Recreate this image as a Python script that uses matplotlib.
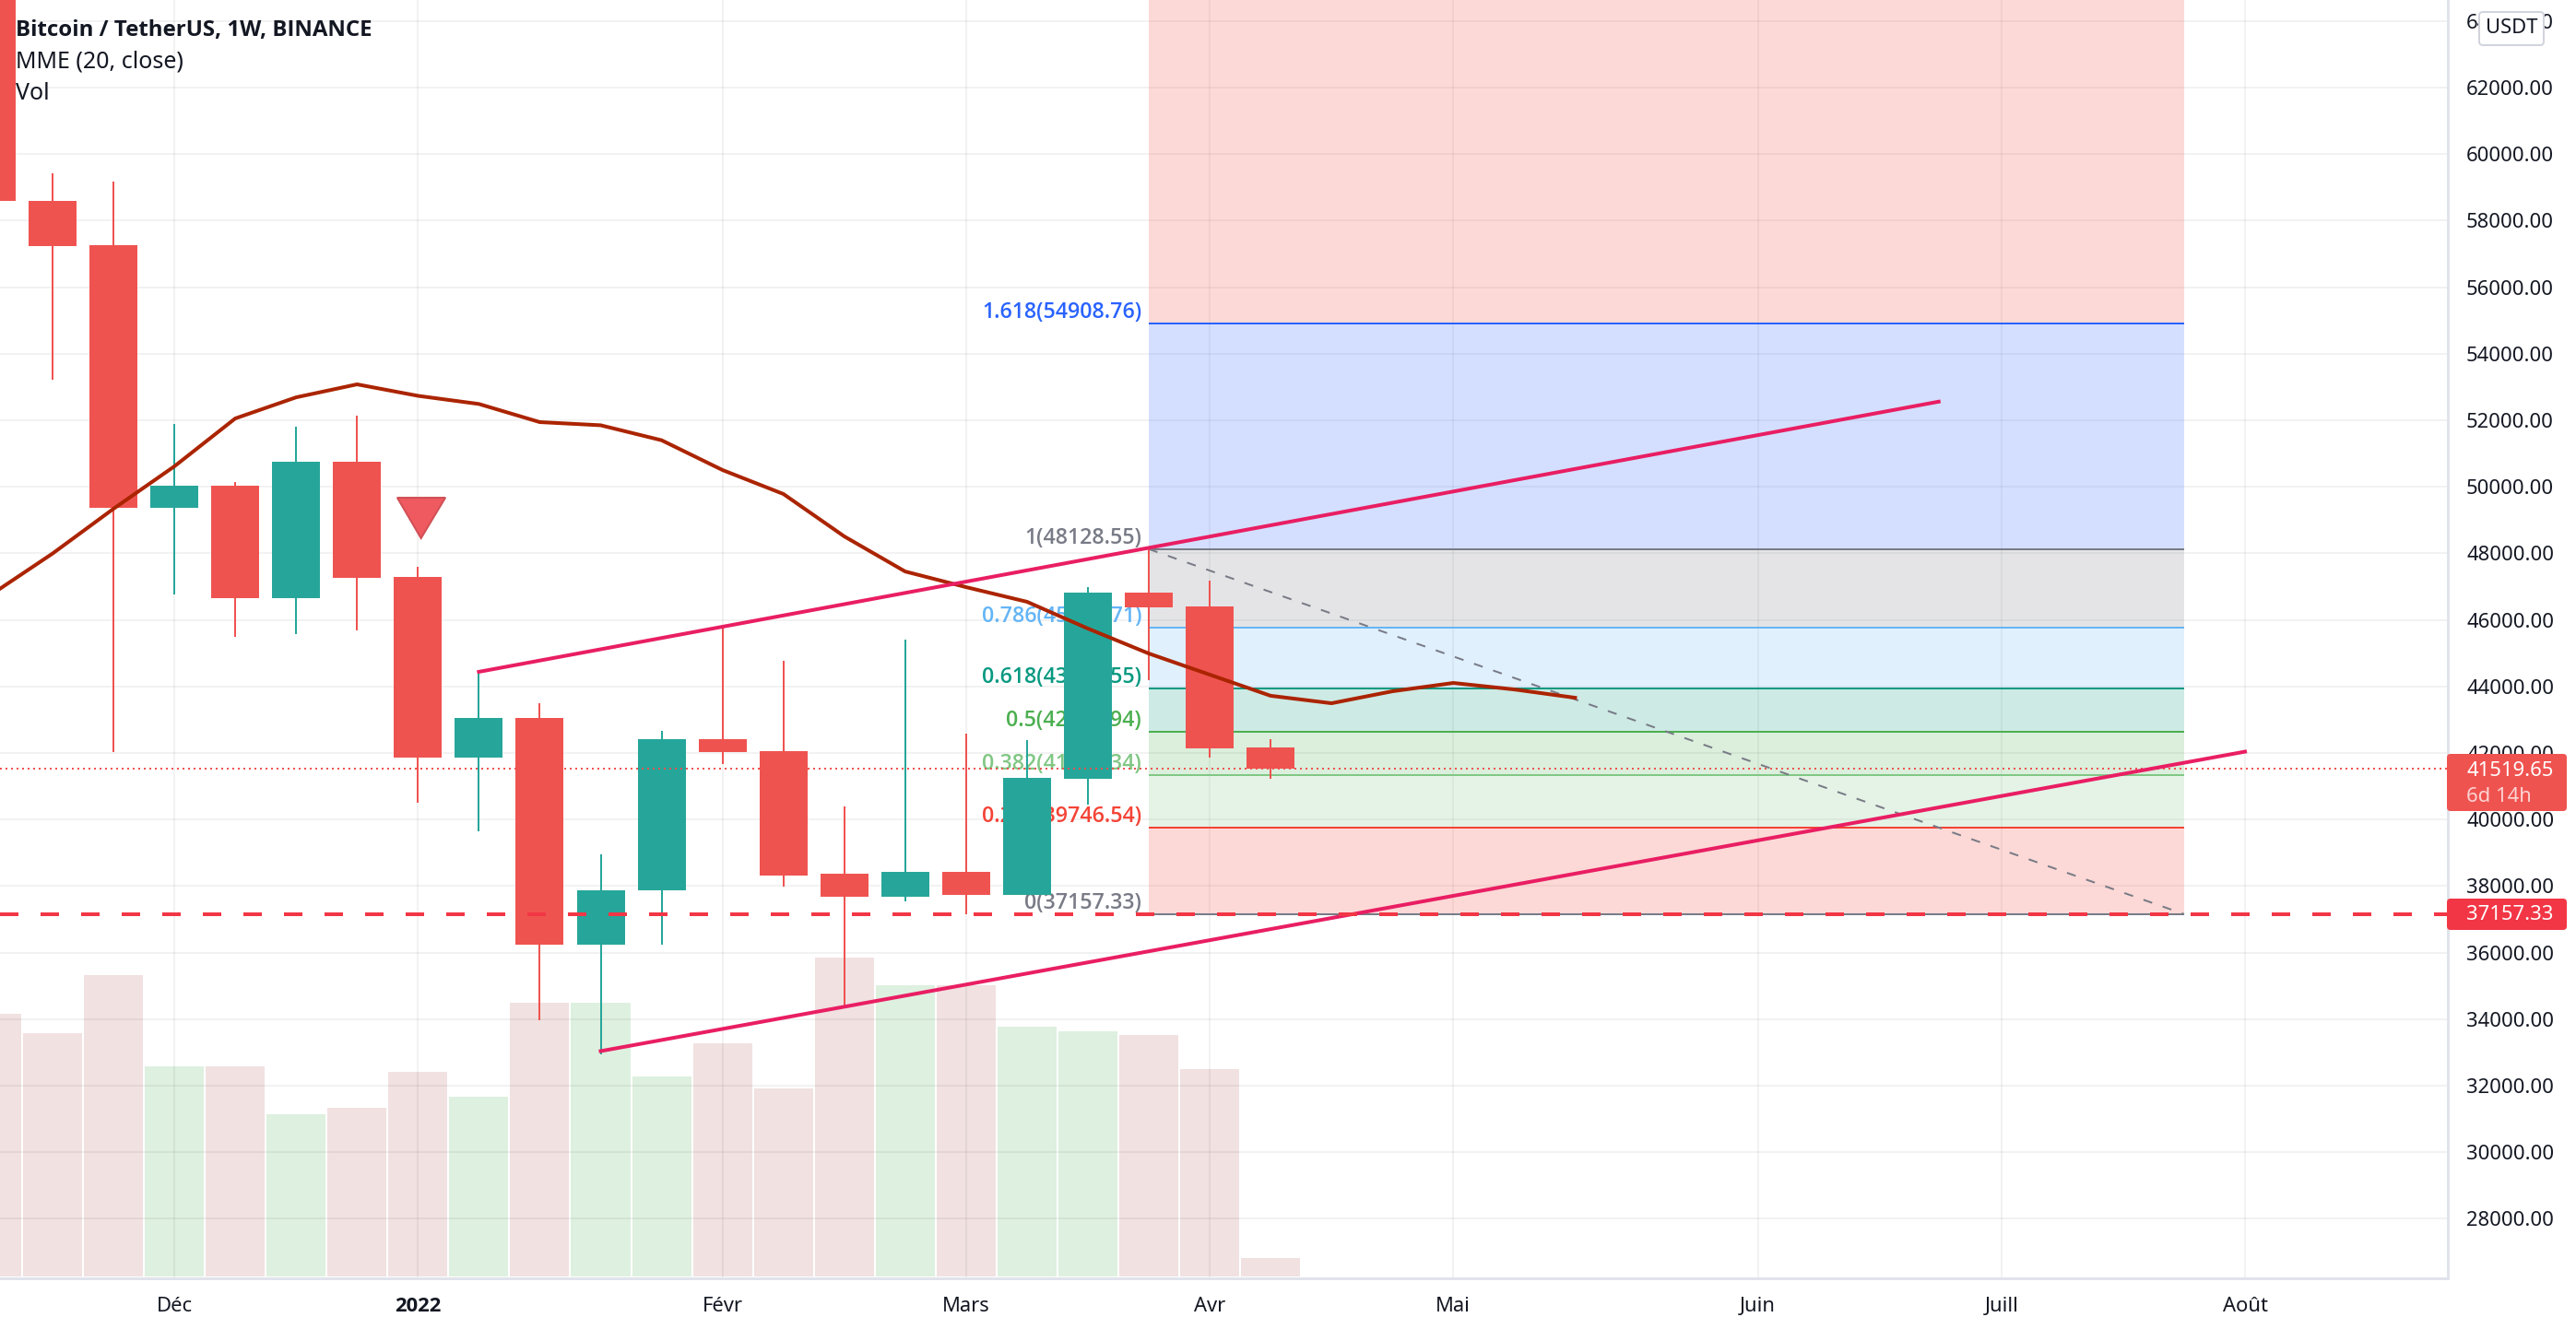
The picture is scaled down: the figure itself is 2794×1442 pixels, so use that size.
import matplotlib
matplotlib.use("Agg")
import matplotlib.pyplot as plt
from matplotlib.patches import FancyBboxPatch

plt.rcParams['font.family'] = ['Noto Sans', 'DejaVu Sans']

W, H = 2794, 1442
INK = '#131722'
UP, DOWN = '#26A69A', '#EF5350'
PX = 0.72  # points per pixel at dpi 100

# ---- data -------------------------------------------------------------
weeks = list(range(-1, 21))
opens = [66000, 58593, 57263, 49370, 50020, 46660, 50760, 47290, 41850, 43060, 36250, 37870,
         42420, 42050, 38370, 37680, 38430, 37740, 41220, 46820, 46400, 42170]
closes = [58593, 57236, 49370, 50020, 46660, 50760, 47260, 41875, 43060, 36250, 37870, 42420,
          42030, 38320, 37680, 38430, 37740, 41250, 46820, 46380, 42150, 41520]
highs = [69000, 59424, 59175, 51900, 50150, 51800, 52140, 47600, 44440, 43500, 38960, 42660,
         45780, 44780, 40400, 45400, 42580, 42390, 46985, 48128, 47180, 42420]
lows = [58593, 53230, 42030, 46765, 45490, 45570, 45680, 40500, 39650, 33980, 32950, 36250,
        41680, 37990, 34380, 37540, 37157, 37740, 40460, 44200, 41870, 41220]
volumes = [285, 264, 327, 228, 228, 176, 183, 222, 195, 297, 297, 217, 253, 204, 346, 316, 316,
           271, 266, 262, 225, 20]

ema_weeks = list(range(-1, 26))
ema_values = [46770, 47995, 49340, 50615, 52055, 52690, 53080, 52735, 52490, 51945, 51850, 51400,
              50505, 49785, 48510, 47455, 46985, 46545, 45740, 44990, 44355, 43720, 43495, 43855,
              44105, 43910, 43660]

upper_trend_x, upper_trend_y = [7, 30.97], [44440, 52560]
lower_trend_x, lower_trend_y = [9, 36.0], [33040, 42040]
support = 37157.33
last_price = 41519.65

fib_x = [18, 35]
fib_prices = [65879.09, 54908.76, 48128.55, 45780.71, 43937.55, 42642.94, 41348.34, 39746.54, 37157.33]
fib_colors = ['#F44336', '#2962FF', '#787B86', '#64B5F6', '#089981', '#4CAF50', '#81C784', '#F44336', '#787B86']
fib_fill_colors = ['#F44336', '#2962FF', '#787B86', '#64B5F6', '#089981', '#4CAF50', '#81C784', '#F44336']
fib_labels = ['', '1.618(54908.76)', '1(48128.55)', '0.786(45780.71)', '0.618(43937.55)',
              '0.5(42642.94)', '0.382(41348.34)', '0.236(39746.54)', '0(37157.33)']

arrow_x = [5.66, 6.45, 6.05]
arrow_y = [49673, 49673, 48454]

month_pos = [2, 6, 11, 15, 19, 23, 28, 32, 36]
month_lab = ['Déc', '2022', 'Févr', 'Mars', 'Avr', 'Mai', 'Juin', 'Juill', 'Août']
price_ticks = list(range(28000, 66000, 2000))

# ---- layout ------------------------------------------------------------
fig = plt.figure(figsize=(W / 100, H / 100), dpi=100, facecolor='white')
rect = [0, (H - 1387) / H, 2655 / W, 1387 / H]
ax_vol = fig.add_axes(rect, zorder=0)
ax = fig.add_axes(rect, zorder=1)
ax.patch.set_visible(False)
xlim = (-0.863, 39.33)
ylim = (26211, 64632)
ax.set_xlim(xlim)
ax.set_ylim(ylim)
ax_vol.set_xlim(xlim)
ax_vol.set_ylim(-2, 1385)
ax_vol.axis('off')

# volume
for w, o, c, v in zip(weeks, opens, closes, volumes):
    ax_vol.bar(w, v, width=0.97, color='#4CAF50' if c > o else '#A03030', alpha=0.18 if c > o else 0.14, lw=0)

# grid + axis
ax.set_axisbelow(True)
ax.grid(True, color='black', alpha=0.05, lw=2 * PX)
ax.set_xticks(month_pos, month_lab)
ax.set_yticks(price_ticks, [f'{p:.2f}' for p in price_ticks])
ax.yaxis.tick_right()
ax.tick_params(axis='y', length=0, pad=20 * PX, labelsize=22 * PX, labelcolor=INK)
ax.tick_params(axis='x', length=0, pad=20 * PX, labelsize=22 * PX, labelcolor=INK)
for lab in ax.get_xticklabels():
    if lab.get_text() == '2022':
        lab.set_family(['Open Sans', 'DejaVu Sans'])
        lab.set_fontweight('bold')
for s in ('top', 'left'):
    ax.spines[s].set_visible(False)
for s in ('right', 'bottom'):
    ax.spines[s].set_color('#E0E3EB')
    ax.spines[s].set_linewidth(3 * PX)

# fibonacci
for i in range(len(fib_fill_colors)):
    ax.fill_between(fib_x, fib_prices[i + 1], fib_prices[i], color=fib_fill_colors[i], alpha=0.2, lw=0, zorder=1)
for p, col, lab in zip(fib_prices, fib_colors, fib_labels):
    if not lab:
        continue
    ax.plot(fib_x, [p, p], color=col, lw=2 * PX, zorder=1.5, solid_capstyle='butt')
    ax.annotate(lab, (fib_x[0], p), xytext=(-8 * PX, 12 * PX), textcoords='offset points',
                ha='right', va='center', color=col, fontsize=23.2 * PX, zorder=1.6,
                fontweight='semibold', family=['Open Sans', 'DejaVu Sans'])
ax.plot(fib_x, [fib_prices[2], fib_prices[-1]], color='#787B86', lw=2 * PX, dashes=(5, 6), zorder=1.7)

# candles
for w, o, c, hi, lo in zip(weeks, opens, closes, highs, lows):
    col = UP if c > o else DOWN
    ax.plot([w, w], [lo, hi], color=col, lw=2 * PX, zorder=3, solid_capstyle='butt')
    ax.bar(w, abs(c - o), bottom=min(o, c), width=52 / 66.05, color=col, lw=0, zorder=3.1)

# price lines and trend lines
ax.axhline(last_price, color=DOWN, lw=2 * PX, dashes=(1, 2), zorder=3.5)
ax.plot(ema_weeks, ema_values, color='#AB2400', lw=4 * PX, zorder=4, solid_joinstyle='round')
ax.plot(upper_trend_x, upper_trend_y, color='#E91E63', lw=4 * PX, zorder=4.2)
ax.plot(lower_trend_x, lower_trend_y, color='#E91E63', lw=4 * PX, zorder=4.2)
ax.axhline(support, color='#F23645', lw=4 * PX, dashes=(5, 6), zorder=4.3, dash_capstyle='butt')
ax.fill(arrow_x, arrow_y, facecolor='#EE5A60', edgecolor='#D05055', lw=2 * PX, zorder=4.4)

# chrome overlay in pixel units
ov = fig.add_axes([0, 0, 1, 1], zorder=5)
ov.set_xlim(0, W)
ov.set_ylim(H, 0)
ov.axis('off')


def tag(x0, y0, x1, y1, fc, ec='none', lw=0):
    ov.add_patch(FancyBboxPatch((x0 + 4, y0 + 4), x1 - x0 - 8, y1 - y0 - 8,
                                boxstyle='round,pad=4,rounding_size=4', fc=fc, ec=ec, lw=lw))


tag(2654, 818, 2784, 880, '#EF5350')
ov.text(2675, 836, f'{last_price:.2f}', color='white', fontsize=22 * PX, va='center')
ov.text(2675, 864, '6d 14h', color='#FBD3D2', fontsize=22 * PX, va='center')
tag(2654, 975, 2784, 1009, '#F23645')
ov.text(2675, 992, f'{support:.2f}', color='white', fontsize=22 * PX, va='center')
tag(2689, 13, 2759, 49, 'white', '#D1D4DC', 2 * PX)
ov.text(2724, 30, 'USDT', color=INK, fontsize=22 * PX, ha='center', va='center')

ov.text(17, 33, 'Bitcoin / TetherUS, 1W, BINANCE', color=INK, fontsize=24 * PX, fontweight='bold',
        family=['Open Sans', 'DejaVu Sans'], va='center')
ov.text(17, 67, 'MME (20, close)', color=INK, fontsize=25 * PX, va='center')
ov.text(17, 101, 'Vol', color=INK, fontsize=25 * PX, va='center')

fig.savefig('out.png', dpi=100, facecolor='white')
